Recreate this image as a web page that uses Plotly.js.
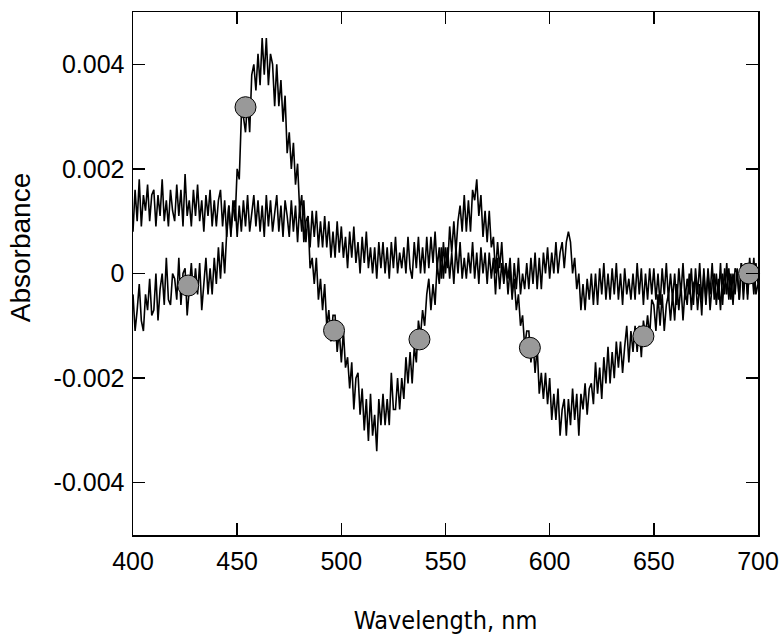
<!DOCTYPE html>
<html>
<head>
<meta charset="utf-8">
<script src="https://cdn.plot.ly/plotly-3.0.1.min.js"></script>
<style>html,body{margin:0;padding:0;background:#fff;}#chart{width:784px;height:644px;}</style>
</head>
<body>
<div id="chart"></div>
<script>
// Wavelength grid, nm (1 nm steps, 400..700)
const wavelengthStart = 400;
const wavelengthStep = 1;

// Spectrum A (trace with the large bands), absorbance in units of 1e-4
const spectrumA_e4 = [
  -4,-11,-7,-2,-9,-11,-4,-7,-1,-8,
  -7,0,-9,-3,0,-6,3,-5,-6,0,
  -1,-5,3,-6,0,1,-8,-2,2,-4,
  1,-4,2,-7,-1,3,-4,1,-4,3,
  -2,5,-1,6,0,8,13,7,14,10,
  20,18,30,30,27,33,27,38,40,35,
  42,36,45,38,45,36,42,40,32,40,
  32,37,29,34,23,27,20,25,17,21,
  12,15,6,10,11,1,3,-2,3,-5,
  -1,-7,-2,-10,-7,-13,-8,-8,-15,-11,
  -17,-11,-18,-16,-22,-17,-26,-20,-19,-27,
  -22,-30,-24,-32,-23,-31,-27,-34,-24,-29,
  -23,-29,-24,-29,-19,-26,-26,-20,-26,-20,
  -24,-16,-21,-15,-21,-14,-17,-9,-12,-7,
  -10,-4,-1,-7,-2,-6,2,-2,5,-1,
  5,1,9,4,10,4,10,13,8,15,
  8,14,8,16,14,18,11,15,7,12,
  6,12,5,7,0,6,1,6,-1,2,
  -1,3,-4,-1,-7,-4,-10,-8,-14,-11,
  -11,-17,-13,-19,-14,-23,-19,-24,-19,-25,
  -20,-28,-23,-28,-22,-31,-26,-24,-31,-24,
  -29,-22,-28,-23,-31,-23,-26,-21,-27,-22,
  -21,-25,-17,-23,-18,-24,-16,-21,-14,-21,
  -15,-20,-13,-18,-13,-19,-14,-10,-17,-11,
  -15,-10,-15,-10,-16,-9,-12,-8,-12,-5,
  -6,-11,-4,-10,-4,-11,-6,-4,-9,-4,
  -9,-2,-7,-2,-9,-3,-6,0,-7,-2,
  -1,-7,-2,-8,1,-5,0,-7,-2,0,
  -6,-1,-7,0,-4,2,-5,0,-6,1,
  0,-5,2,-5,1,-4,3,-2,3,-4,
  -2
];

// Spectrum B (flatter trace), absorbance in units of 1e-4
const spectrumB_e4 = [
  8,16,10,18,9,15,12,17,10,15,
  16,9,15,11,18,10,14,9,16,12,
  10,17,11,16,9,19,11,14,9,16,
  11,17,10,14,8,15,11,16,9,14,
  9,14,16,9,14,7,13,8,12,14,
  7,13,8,14,9,15,8,12,15,9,
  14,8,13,7,15,9,14,8,12,15,
  8,13,7,14,11,7,14,8,13,6,
  13,8,14,6,11,5,12,7,12,5,
  10,5,11,5,10,3,8,3,10,4,
  9,3,7,1,8,3,9,2,6,0,
  7,2,8,1,5,0,5,-1,6,1,
  6,0,5,-1,6,1,7,0,4,1,
  5,0,7,1,-1,6,1,7,0,5,
  0,7,1,7,2,8,1,5,-1,6,
  0,5,-1,4,-2,5,0,6,-1,3,
  -1,4,0,6,-1,4,-2,5,0,4,
  -2,4,-1,3,-4,3,-3,2,-2,2,
  -4,1,-5,2,-3,3,-4,0,-3,2,
  -3,3,-2,4,-3,3,-3,4,0,5,
  -1,4,0,6,0,4,6,1,6,8,
  6,0,3,-3,0,-7,-2,-7,-1,-5,
  0,-6,0,-6,1,-4,2,-5,0,-5,
  1,-4,2,-5,0,-6,1,-4,-1,-5,
  0,-5,2,-4,1,-6,0,-5,1,-4,
  1,-5,0,-6,1,-4,2,-5,0,-5,
  0,-6,1,-4,2,-5,-1,-4,1,-6,
  1,-4,2,-5,0,-6,1,-4,2,-5,
  0,-5,2,-6,1,-4,1,-5,0,-4,
  1,-5,2,-3,2,-5,2,1,-4,2,
  -2
];

// Highlighted points (grey circles) on spectrum A
const markerWavelengths = [426.5, 454, 496.5, 537.5, 590.5, 645, 695.7];
const markerAbsorbance = [-0.00023, 0.00318, -0.00109, -0.00126, -0.00142, -0.0012, 0.0];

// Axis tick labels
const yTickValues = [-0.004, -0.002, 0, 0.002, 0.004];
const yTickLabels = ["-0.004", "-0.002", "0", "0.002", "0.004"];
const xTickValues = [400, 450, 500, 550, 600, 650, 700];
const xTickLabels = ["400", "450", "500", "550", "600", "650", "700"];
const xTitle = 'Wavelength, nm';
const yTitle = 'Absorbance';

const wl = spectrumA_e4.map((_, i) => wavelengthStart + i * wavelengthStep);
const absA = spectrumA_e4.map(v => v * 1e-4);
const absB = spectrumB_e4.map(v => v * 1e-4);

const traces = [
  {x: wl, y: absB, mode: 'lines', line: {color: '#000', width: 1.6}, hoverinfo: 'skip'},
  {x: wl, y: absA, mode: 'lines', line: {color: '#000', width: 1.6}, hoverinfo: 'skip'},
  {x: markerWavelengths, y: markerAbsorbance, mode: 'markers', cliponaxis: false,
   marker: {size: 21, color: '#999999', line: {color: '#000', width: 1}}}
];

const tickFont = {family: 'Liberation Sans, Arial, sans-serif', size: 25, color: '#000'};
const layout = {
  width: 784, height: 644,
  margin: {l: 133, r: 26, t: 12, b: 109},
  paper_bgcolor: '#fff', plot_bgcolor: '#fff',
  showlegend: false,
  xaxis: {
    range: [400, 700], tickvals: xTickValues, ticktext: xTickLabels,
    ticks: 'inside', ticklen: 12, tickwidth: 1.5, tickcolor: '#000',
    showline: true, linecolor: '#000', linewidth: 1.5, mirror: 'ticks',
    showgrid: false, zeroline: false, tickfont: tickFont, ticklabelstandoff: 3,
    title: {text: xTitle, font: {family: 'DejaVu Sans Condensed, DejaVu Sans, sans-serif', size: 25, color: '#000'}, standoff: 38}
  },
  yaxis: {
    range: [-0.005, 0.005], tickvals: yTickValues, ticktext: yTickLabels,
    ticks: 'inside', ticklen: 12, tickwidth: 1.5, tickcolor: '#000',
    showline: true, linecolor: '#000', linewidth: 1.5, mirror: 'ticks',
    showgrid: false, zeroline: false, tickfont: tickFont, ticklabelstandoff: 2
  },
  annotations: [{
    text: yTitle, textangle: -90, xref: 'paper', yref: 'paper',
    x: -0.181, y: 0.55, xanchor: 'center', yanchor: 'middle', showarrow: false,
    font: {family: 'Liberation Sans, Arial, sans-serif', size: 28, color: '#000'}
  }]
};

Plotly.newPlot('chart', traces, layout, {staticPlot: true, displayModeBar: false});
</script>
</body>
</html>
